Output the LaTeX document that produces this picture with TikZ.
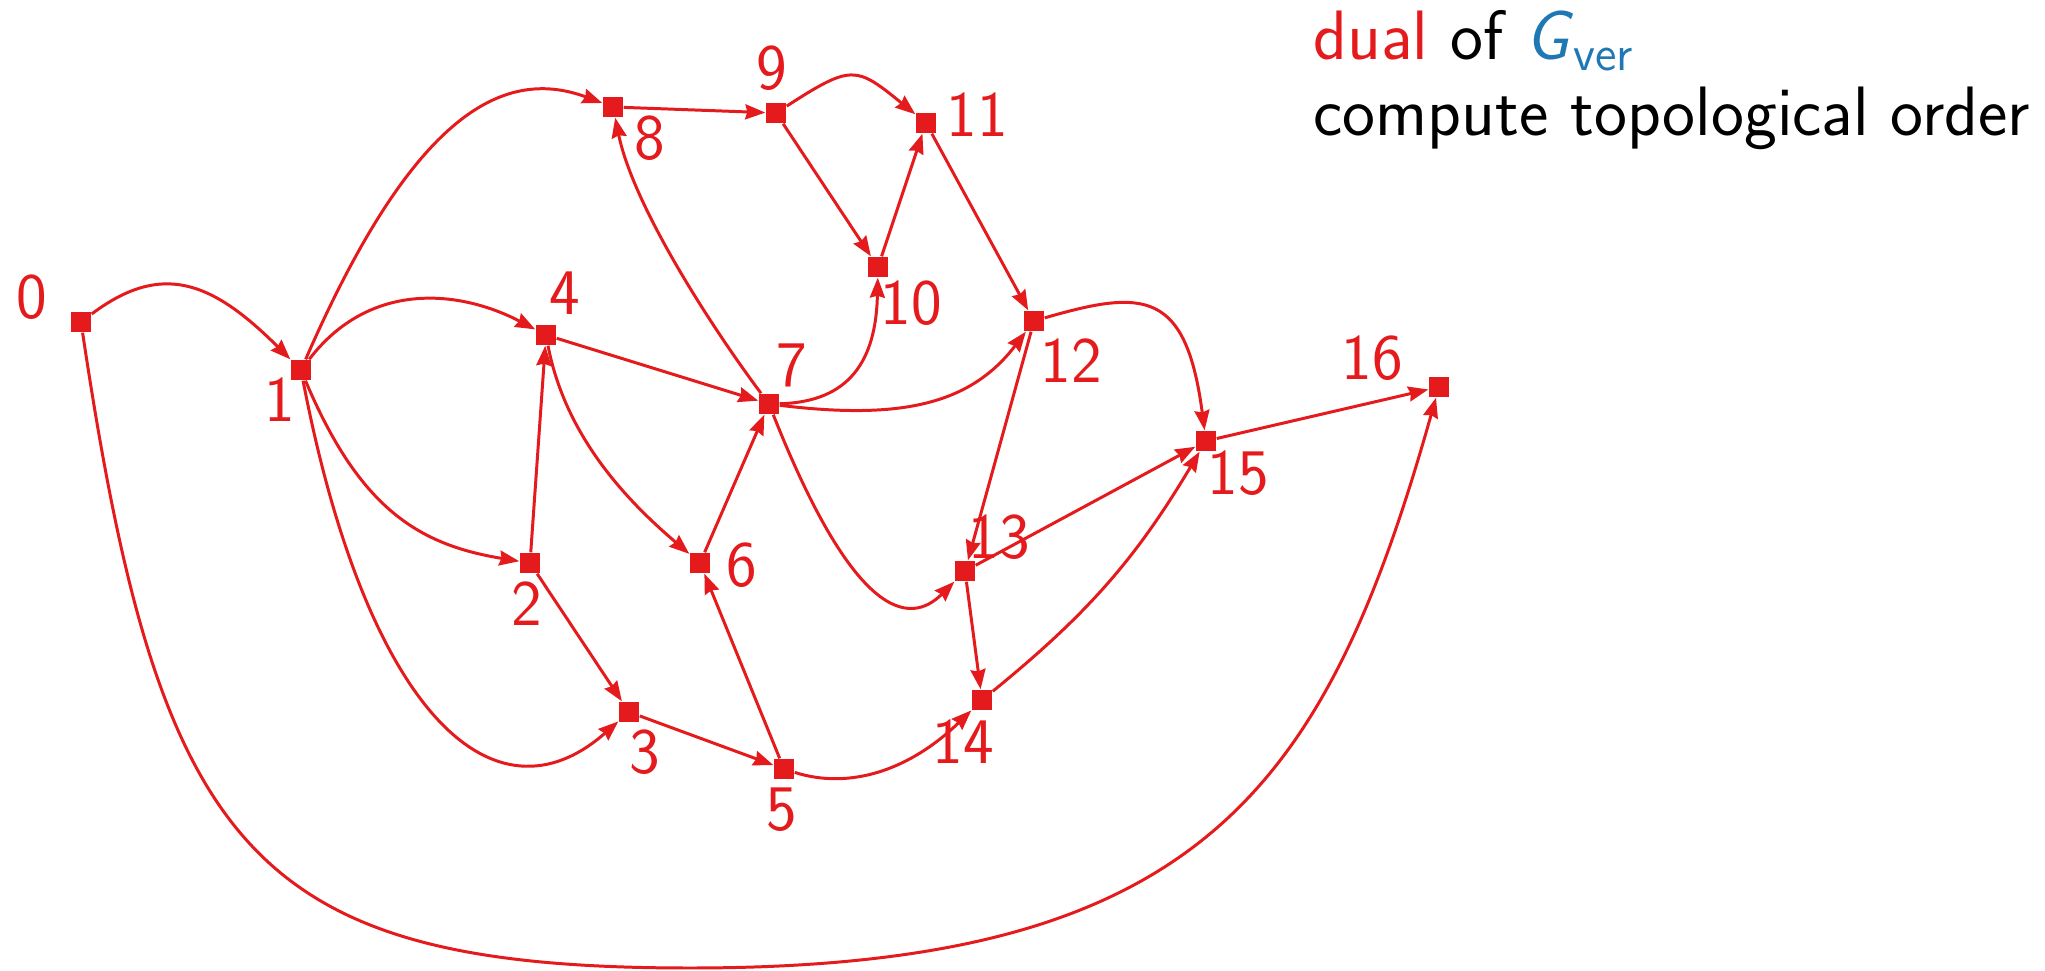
\documentclass[tikz,border=0pt]{standalone}
\usepackage{amsmath}
\usepackage{xcolor}
\usepackage{tikz}
\usetikzlibrary{arrows.meta, positioning}
\renewcommand{\familydefault}{\sfdefault}

\definecolor{dualred}{RGB}{228,26,28}
\definecolor{verblue}{RGB}{31,120,180}

\tikzset{
    vtx/.style={rectangle, fill=dualred, minimum size=2mm, inner sep=0pt},
    lbl/.style={text=dualred, inner sep=0pt, font=\fontsize{18.5}{22}\selectfont},
    txt/.style={anchor=base west, inner sep=0pt, font=\fontsize{19.9}{24}\selectfont},
    arc/.style={draw=dualred, line width=0.85pt, -{Stealth[length=2mm, width=1.5mm, inset=0.2mm]}}
}

\begin{document}
\begin{tikzpicture}
        \useasboundingbox (0,0) rectangle (20.45,-9.71);

        % vertices of the dual
        \node[vtx] (v0) at (0.81,-3.22) {};
        \node[vtx] (v1) at (3.01,-3.70) {};
        \node[vtx] (v2) at (5.30,-5.63) {};
        \node[vtx] (v3) at (6.29,-7.12) {};
        \node[vtx] (v4) at (5.46,-3.35) {};
        \node[vtx] (v5) at (7.84,-7.69) {};
        \node[vtx] (v6) at (7.00,-5.63) {};
        \node[vtx] (v7) at (7.69,-4.04) {};
        \node[vtx] (v8) at (6.13,-1.07) {};
        \node[vtx] (v9) at (7.76,-1.13) {};
        \node[vtx] (v10) at (8.78,-2.67) {};
        \node[vtx] (v11) at (9.26,-1.23) {};
        \node[vtx] (v12) at (10.34,-3.21) {};
        \node[vtx] (v13) at (9.65,-5.71) {};
        \node[vtx] (v14) at (9.82,-7.00) {};
        \node[vtx] (v15) at (12.06,-4.41) {};
        \node[vtx] (v16) at (14.39,-3.87) {};

        % numbers
        \node[lbl] (l0) at (0.32,-2.97) {0};
        \node[lbl] (l1) at (2.80,-4.00) {1};
        \node[lbl] (l2) at (5.27,-6.04) {2};
        \node[lbl] (l3) at (6.45,-7.52) {3};
        \node[lbl] (l4) at (5.65,-2.93) {4};
        \node[lbl] (l5) at (7.82,-8.10) {5};
        \node[lbl] (l6) at (7.415,-5.65) {6};
        \node[lbl] (l7) at (7.92,-3.65) {7};
        \node[lbl] (l8) at (6.50,-1.38) {8};
        \node[lbl] (l9) at (7.72,-0.68) {9};
        \node[lbl] (l10) at (9.11,-3.03) {10};
        \node[lbl] (l11) at (9.77,-1.15) {11};
        \node[lbl] (l12) at (10.71,-3.61) {12};
        \node[lbl] (l13) at (9.99,-5.37) {13};
        \node[lbl] (l14) at (9.63,-7.42) {14};
        \node[lbl] (l15) at (12.38,-4.73) {15};
        \node[lbl] (l16) at (13.72,-3.58) {16};

        % straight arcs
        \draw[arc] (v2) -- (v4);
        \draw[arc] (v2) -- (v3);
        \draw[arc] (v3) -- (v5);
        \draw[arc] (v4) -- (v7);
        \draw[arc] (v5) -- (v6);
        \draw[arc] (v6) -- (v7);
        \draw[arc] (v8) -- (v9);
        \draw[arc] (v9) -- (v10);
        \draw[arc] (v10) -- (v11);
        \draw[arc] (v11) -- (v12);
        \draw[arc] (v12) -- (v13);
        \draw[arc] (v13) -- (v15);
        \draw[arc] (v13) -- (v14);
        \draw[arc] (v15) -- (v16);
        \draw[arc] (v14) to[bend right=10] (v15);

        % curved arcs
        \draw[arc] (v0) .. controls (1.61,-2.62) and (2.11,-2.80) .. (v1);
        \draw[arc] (v0) .. controls (1.60,-8.50) and (2.50,-9.68) .. (6.90,-9.68)
            .. controls (12.00,-9.68) and (13.25,-7.90) .. (v16);
        \draw[arc] (v1) .. controls (4.10,-1.20) and (5.00,-0.65) .. (v8);
        \draw[arc] (v1) .. controls (3.70,-2.80) and (4.60,-2.90) .. (v4);
        \draw[arc] (v1) .. controls (3.60,-5.10) and (4.20,-5.45) .. (v2);
        \draw[arc] (v1) .. controls (3.67,-7.13) and (4.94,-8.31) .. (v3);
        \draw[arc] (v4) .. controls (5.66,-4.40) and (6.32,-5.05) .. (v6);
        \draw[arc] (v5) .. controls (8.50,-7.90) and (9.10,-7.70) .. (v14);
        \draw[arc] (v7) .. controls (7.10,-3.25) and (6.33,-2.05) .. (v8);
        \draw[arc] (v7) .. controls (8.50,-4.02) and (8.76,-3.60) .. (v10);
        \draw[arc] (v7) .. controls (9.00,-4.20) and (9.70,-4.05) .. (v12);
        \draw[arc] (v7) .. controls (8.54,-6.18) and (9.09,-6.27) .. (v13);
        \draw[arc] (v9) .. controls (8.52,-0.64) and (8.56,-0.66) .. (v11);
        \draw[arc] (v12) .. controls (11.44,-2.89) and (11.86,-2.90) .. (v15);

        % caption
        \node[txt] (title) at (13.13,-0.60) {\textcolor{dualred}{dual} of \textcolor{verblue}{\textsl{G}$_\text{\upshape ver}$}};
        \node[txt] (task) at (13.13,-1.36) {compute topological order};
\end{tikzpicture}
\end{document}
